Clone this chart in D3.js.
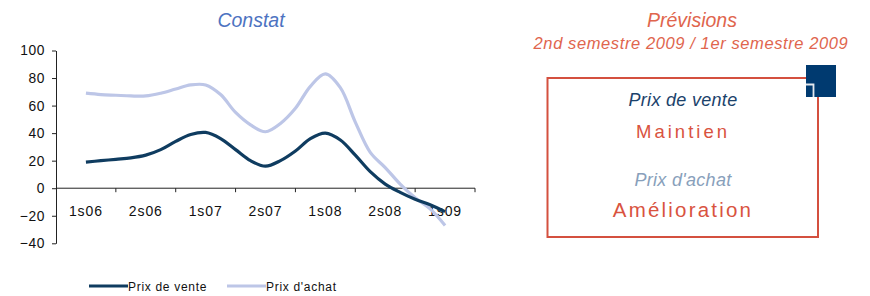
<!DOCTYPE html>
<html>
<head>
<meta charset="utf-8">
<script src="https://cdn.jsdelivr.net/npm/d3@7.9.0/dist/d3.min.js"></script>
<style>
  body { margin: 0; background: #fff; }
  svg { display: block; font-family: "Liberation Sans", Arial, sans-serif; }
</style>
</head>
<body>
<svg id="chart" width="870" height="296"></svg>
<script>
// semesters on the x axis
const semesters = ["1s06", "2s06", "1s07", "2s07", "1s08", "2s08", "1s09"];
const yTicks = [-40, -20, 0, 20, 40, 60, 80, 100];

// soldes d'opinion (4 readings per semester)
const prixVente = [19, 20, 21, 22, 24, 28, 34, 39, 40.5, 36, 28, 20, 16, 20, 27, 36, 40, 35, 24, 12, 3, -3, -8, -12, -17];
const prixAchat = [69, 68, 67.5, 67, 67, 69, 72, 75, 75, 68, 55, 46, 41, 47, 58, 74, 83, 73, 48, 26, 15, 3, -7, -15, -27];

const svg = d3.select("#chart");

const x = d3.scaleBand().domain(semesters).range([56, 475]).padding(0);
const y = d3.scaleLinear().domain([-40, 100]).range([243.3, 50.5]);
// position along the series, in semesters from the first one
const xPos = d3.scaleLinear()
  .domain([0, semesters.length - 1])
  .range([x(semesters[0]) + x.bandwidth() / 2, x(semesters[semesters.length - 1]) + x.bandwidth() / 2]);

// title
svg.append("text")
  .attr("x", 251).attr("y", 27)
  .attr("text-anchor", "middle")
  .attr("font-size", 19.5).attr("font-style", "italic")
  .attr("fill", "#4d73c1")
  .text("Constat");

// y axis
const yAxis = svg.append("g")
  .attr("transform", "translate(56,0)")
  .call(d3.axisLeft(y).tickValues(yTicks).tickSize(4).tickSizeOuter(0).tickPadding(7));
yAxis.selectAll("text")
  .attr("font-size", 13.8).attr("letter-spacing", "0.6px")
  .attr("font-family", "Liberation Sans, Arial, sans-serif")
  .attr("fill", "#111");
yAxis.selectAll("line, path").attr("stroke", "#222");

// x axis on the zero line, ticks on band edges, labels in the middle
const xg = svg.append("g").attr("transform", `translate(0,${y(0)})`);
xg.append("line")
  .attr("x1", x.range()[0]).attr("x2", x.range()[1])
  .attr("stroke", "#222");
xg.selectAll("line.tick")
  .data(semesters)
  .join("line")
  .attr("class", "tick")
  .attr("x1", d => x(d) + x.bandwidth()).attr("x2", d => x(d) + x.bandwidth())
  .attr("y1", 0).attr("y2", 4)
  .attr("stroke", "#222");
xg.selectAll("text")
  .data(semesters)
  .join("text")
  .attr("x", d => x(d) + x.bandwidth() / 2)
  .attr("y", 28)
  .attr("text-anchor", "middle")
  .attr("font-size", 14).attr("letter-spacing", "0.9px")
  .attr("fill", "#111")
  .text(d => d);

// lines
const line = d3.line()
  .x((d, i) => xPos(i / 4))
  .y(d => y(d))
  .curve(d3.curveCatmullRom);

const series = [
  { name: "Prix de vente", values: prixVente, color: "#0f3c60" },
  { name: "Prix d'achat", values: prixAchat, color: "#bdc6e7" }
];

svg.selectAll("path.serie")
  .data(series.slice().reverse())
  .join("path")
  .attr("class", "serie")
  .attr("d", d => line(d.values))
  .attr("fill", "none")
  .attr("stroke", d => d.color)
  .attr("stroke-width", 3.2)
  .attr("stroke-linejoin", "round");

// legend
const legendX = [89, 227];
const lg = svg.selectAll("g.legend")
  .data(series)
  .join("g")
  .attr("class", "legend")
  .attr("transform", (d, i) => `translate(${legendX[i]},286)`);
lg.append("line")
  .attr("x1", 0).attr("x2", 39)
  .attr("stroke", d => d.color).attr("stroke-width", 3.2);
lg.append("text")
  .attr("x", 39).attr("y", 4.5)
  .attr("font-size", 12).attr("letter-spacing", "0.7px")
  .attr("fill", "#111")
  .text(d => d.name);

// right panel: forecasts
svg.append("text")
  .attr("x", 692).attr("y", 27)
  .attr("text-anchor", "middle")
  .attr("font-size", 19.5).attr("font-style", "italic")
  .attr("fill", "#e0654d")
  .text("Prévisions");
svg.append("text")
  .attr("x", 691).attr("y", 48.5)
  .attr("text-anchor", "middle")
  .attr("font-size", 16.5).attr("font-style", "italic").attr("letter-spacing", "0.6px")
  .attr("fill", "#e0654d")
  .text("2nd semestre 2009 / 1er semestre 2009");

svg.append("rect")
  .attr("x", 547.5).attr("y", 78)
  .attr("width", 270.5).attr("height", 159)
  .attr("fill", "none")
  .attr("stroke", "#d4503f").attr("stroke-width", 2);

svg.append("rect")
  .attr("x", 806).attr("y", 65)
  .attr("width", 30).attr("height", 32)
  .attr("fill", "#003a70");
svg.append("path")
  .attr("d", "M806,84.5H813.5V97")
  .attr("fill", "none")
  .attr("stroke", "#e4e8ee").attr("stroke-width", 1.8);

const boxLines = [
  { text: "Prix de vente", y: 106, size: 18, italic: true, color: "#1b426b", spacing: 0.3 },
  { text: "Maintien", y: 137.5, size: 18.5, italic: false, color: "#d9533f", spacing: 3 },
  { text: "Prix d'achat", y: 186, size: 18, italic: true, color: "#88a0bb", spacing: 0.3 },
  { text: "Amélioration", y: 216.5, size: 20.5, italic: false, color: "#d9533f", spacing: 2.2 }
];
svg.selectAll("text.box")
  .data(boxLines)
  .join("text")
  .attr("class", "box")
  .attr("x", 683).attr("y", d => d.y)
  .attr("text-anchor", "middle")
  .attr("font-size", d => d.size)
  .attr("font-style", d => d.italic ? "italic" : "normal")
  .attr("letter-spacing", d => d.spacing + "px")
  .attr("fill", d => d.color)
  .text(d => d.text);
</script>
</body>
</html>
